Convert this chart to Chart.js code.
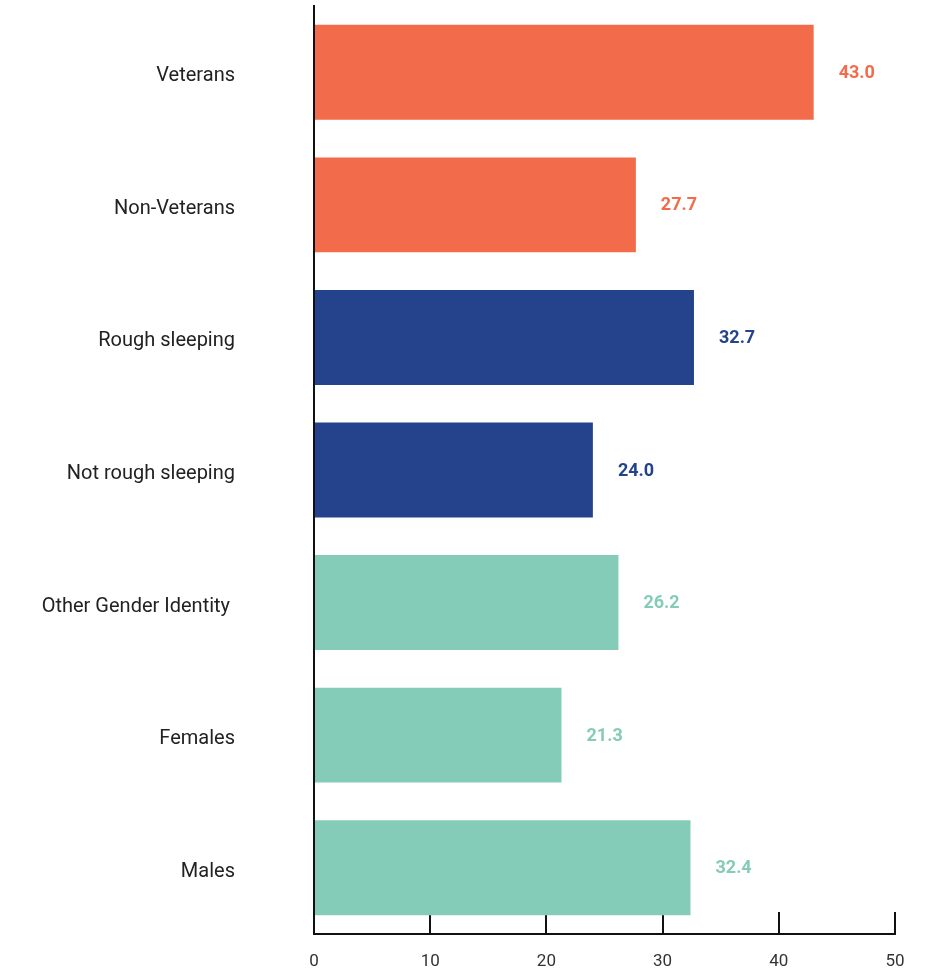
<!DOCTYPE html>
<html>
<head>
<meta charset="utf-8">
<script src="https://cdn.jsdelivr.net/npm/chart.js@4.4.1/dist/chart.umd.min.js"></script>
<style>
  html, body { margin: 0; padding: 0; background: #fff; }
  #wrap { width: 939px; height: 975px; position: relative; }
</style>
</head>
<body>
<div id="wrap"><canvas id="bars"></canvas></div>
<script>
/* ============================================================
   DATA
   ============================================================ */

const categories = ['Veterans', 'Non-Veterans', 'Rough sleeping', 'Not rough sleeping', 'Other Gender Identity ', 'Females', 'Males'];
const values     = [43.0, 27.7, 32.7, 24.0, 26.2, 21.3, 32.4];
const groups     = ['veteran', 'veteran', 'sleeping', 'sleeping', 'gender', 'gender', 'gender'];
const xTicks     = [0, 10, 20, 30, 40, 50];

const groupColor = {
  veteran:  '#f26b4a',
  sleeping: '#25438c',
  gender:   '#85ccb8',
};

/* ============================================================
   VALUE LABELS (drawn past the bar end, in bar colour)
   ============================================================ */

const valueLabels = {
  id: 'valueLabels',
  afterDatasetsDraw(chart) {
    const { ctx } = chart;
    const meta = chart.getDatasetMeta(0);
    ctx.save();
    ctx.font = "bold 18px 'Roboto', sans-serif";
    ctx.textAlign = 'left';
    ctx.textBaseline = 'middle';
    meta.data.forEach((bar, i) => {
      ctx.fillStyle = groupColor[groups[i]];
      ctx.fillText(values[i].toFixed(1), bar.x + 25, bar.y + 1);
    });
    ctx.restore();
  },
};

/* ============================================================
   CHART
   ============================================================ */

const axisColor = '#111';

// tick padding also pads the chart area in v4; drop it so the axes meet the edges
function noPad(s) {
  s.paddingTop = 0;
  s.paddingBottom = 0;
  s.paddingLeft = 0;
  s.paddingRight = 0;
}

new Chart(document.getElementById('bars'), {
  type: 'bar',
  data: {
    labels: categories,
    datasets: [{
      data: values,
      backgroundColor: groups.map(g => groupColor[g]),
      borderWidth: 0,
      barPercentage: 1,
      categoryPercentage: 0.716,
    }],
  },
  options: {
    indexAxis: 'y',
    responsive: true,
    maintainAspectRatio: false,
    animation: false,
    layout: { padding: { top: 6, right: 44, left: 0, bottom: 0 } },
    plugins: {
      legend: { display: false },
      tooltip: { enabled: false },
    },
    scales: {
      x: {
        min: 0,
        max: 50,
        afterBuildTicks: s => { s.ticks = xTicks.map(v => ({ value: v })); },
        afterFit: s => { s.height = 41; noPad(s); },
        border: { display: true, color: axisColor, width: 2 },
        grid: { drawOnChartArea: false, drawTicks: true, tickLength: -22, color: axisColor, lineWidth: 2 },
        ticks: { color: '#333', padding: 40, font: { family: "'Roboto', sans-serif", size: 17 } },
      },
      y: {
        afterFit: s => { s.width = 314; noPad(s); },
        border: { display: true, color: axisColor, width: 2 },
        grid: { display: false, drawTicks: false },
        ticks: { color: '#222', padding: 79, labelOffset: 4, font: { family: "'Roboto', sans-serif", size: 20 } },
      },
    },
  },
  plugins: [valueLabels],
});
</script>
</body>
</html>
